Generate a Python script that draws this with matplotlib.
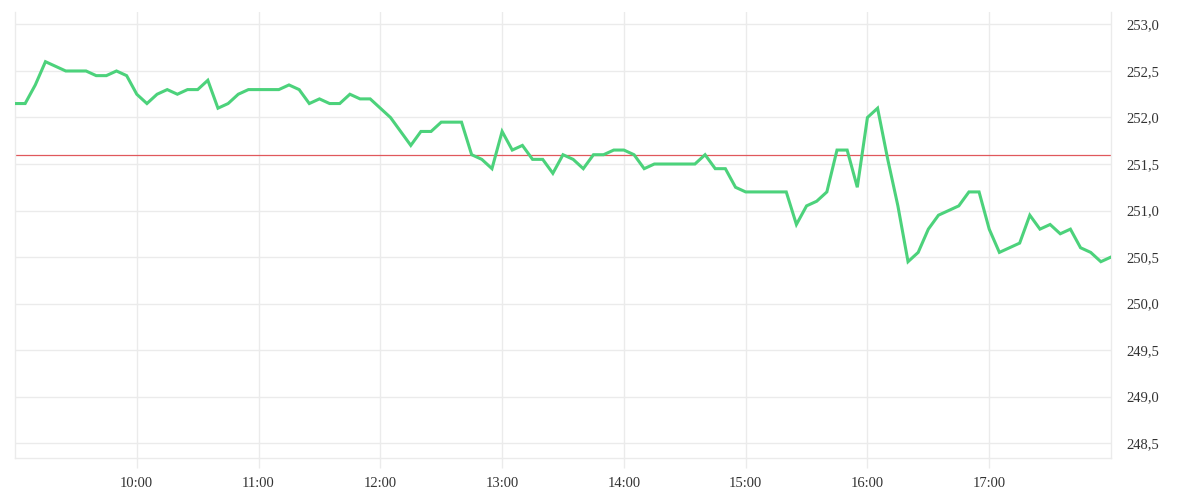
import numpy as np
import pandas as pd
import matplotlib
matplotlib.use("Agg")
import matplotlib.pyplot as plt
import matplotlib.dates as mdates
from matplotlib.ticker import FuncFormatter, MultipleLocator

# cours toutes les 5 minutes, de 9:00 a 18:00
prix = [
    252.15, 252.15, 252.35, 252.6, 252.55, 252.5, 252.5, 252.5, 252.45, 252.45, 252.5, 252.45,
    252.25, 252.15, 252.25, 252.3, 252.25, 252.3, 252.3, 252.4, 252.1, 252.15, 252.25, 252.3,
    252.3, 252.3, 252.3, 252.35, 252.3, 252.15, 252.2, 252.15, 252.15, 252.25, 252.2, 252.2,
    252.1, 252.0, 251.85, 251.7, 251.85, 251.85, 251.95, 251.95, 251.95, 251.6, 251.55, 251.45,
    251.85, 251.65, 251.7, 251.55, 251.55, 251.4, 251.6, 251.55, 251.45, 251.6, 251.6, 251.65,
    251.65, 251.6, 251.45, 251.5, 251.5, 251.5, 251.5, 251.5, 251.6, 251.45, 251.45, 251.25,
    251.2, 251.2, 251.2, 251.2, 251.2, 250.85, 251.05, 251.1, 251.2, 251.65, 251.65, 251.25,
    252.0, 252.1, 251.55, 251.05, 250.45, 250.55, 250.8, 250.95, 251.0, 251.05, 251.2, 251.2,
    250.8, 250.55, 250.6, 250.65, 250.95, 250.8, 250.85, 250.75, 250.8, 250.6, 250.55, 250.45, 250.5,
]
heures = pd.date_range("2024-01-02 09:00", periods=len(prix), freq="5min")
cloture_veille = 251.6  # ligne de reference

grille = "#ebebeb"
texte = "#333333"

fig = plt.figure(figsize=(12, 5), dpi=100)
ax = fig.add_axes([15 / 1200, 42 / 500, 1096 / 1200, 446 / 500])

ax.plot(heures, prix, color="#4cd27b", lw=2.2, solid_joinstyle="miter", zorder=3)
ax.axhline(cloture_veille, color="#e0585c", lw=0.9, zorder=2)

ax.set_xlim(heures[0], heures[-1])
ax.set_ylim(248.34, 253.134)

ax.xaxis.set_major_locator(mdates.HourLocator(byhour=range(10, 18)))
ax.xaxis.set_major_formatter(mdates.DateFormatter("%H:%M"))
ax.yaxis.set_major_locator(MultipleLocator(0.5))
ax.yaxis.set_major_formatter(FuncFormatter(lambda v, p: f"{v:.1f}".replace(".", ",")))
ax.yaxis.tick_right()

ax.grid(True, color=grille, lw=1, zorder=0)
for s in ax.spines.values():
    s.set_color(grille)
    s.set_linewidth(1)
ax.spines["top"].set_visible(False)

ax.tick_params(axis="x", length=7.5, width=1, color=grille, pad=6,
               labelsize=10.5, labelcolor=texte)
ax.tick_params(axis="y", right=True, left=False, length=0, pad=11,
               labelsize=10.5, labelcolor=texte)
for lab in ax.get_xticklabels() + ax.get_yticklabels():
    lab.set_family(["Liberation Serif", "DejaVu Serif"])

fig.savefig("out.png", dpi=100)
